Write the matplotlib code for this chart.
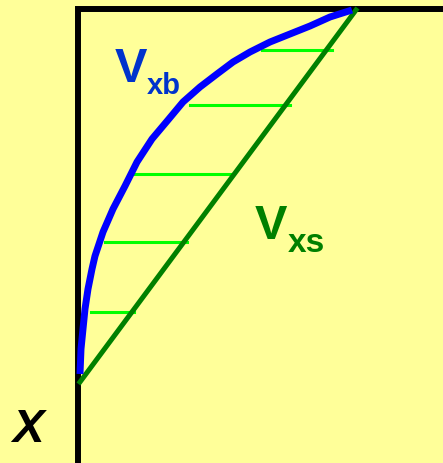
import matplotlib
import matplotlib.pyplot as plt

matplotlib.use("Agg")

# velocity profile sketch: depth z grows downward, velocity v grows to the right
# blue curve = V_xb, green straight line = V_xs, light green = difference hatches
vxb_v = [274, 252, 232, 212, 192, 172, 155, 139, 122, 105, 90, 74, 59, 47,
         35, 25, 17, 14, 10, 7, 5, 3, 2]
vxb_z = [1, 8, 17, 25, 33, 43, 53, 65, 78, 93, 111, 130, 153, 177,
         200, 223, 247, 260, 280, 300, 320, 340, 365]

vxs_v = [2, 278]
vxs_z = [373, 1]

hatch_z = [41, 96, 165, 233, 303]
hatch_v0 = [184, 112, 55, 27, 13]
hatch_v1 = [254, 212, 155, 109, 56]

bg = "#FFFF99"

fig = plt.figure(figsize=(4.43, 4.64), dpi=100, facecolor=bg)
ax = fig.add_axes([0, 0, 1, 1])
ax.set_facecolor(bg)
ax.set_xlim(-78, 365)
ax.set_ylim(454, -10)
ax.axis("off")

# frame: depth axis and surface line
ax.plot([0, 0, 365], [454, 0, 0], color="black", lw=4.3,
        solid_joinstyle="miter", zorder=1)

for z, a, b in zip(hatch_z, hatch_v0, hatch_v1):
    ax.plot([a, b], [z, z], color="#00FF00", lw=2.2, zorder=2)

ax.plot(vxs_v, vxs_z, color="#008000", lw=3.6, zorder=3)
ax.plot(vxb_v, vxb_z, color="#0000FF", lw=5, zorder=4,
        solid_capstyle="butt", solid_joinstyle="round")

font = "Liberation Sans"
ax.text(37, 72, "V", color="#0033CC", fontsize=35, fontweight="bold",
        family=font, va="baseline", ha="left")
ax.text(69, 84, "xb", color="#0033CC", fontsize=21, fontweight="bold",
        family=font, va="baseline", ha="left")
ax.text(177, 229, "V", color="#008000", fontsize=35, fontweight="bold",
        family=font, va="baseline", ha="left")
ax.text(210, 242, "xs", color="#008000", fontsize=24, fontweight="bold",
        family=font, va="baseline", ha="left")
ax.text(-66, 432, "X", color="black", fontsize=34, fontweight="bold",
        fontstyle="italic", family=font, va="baseline", ha="left")

fig.savefig("out.png", dpi=100, facecolor=bg)
